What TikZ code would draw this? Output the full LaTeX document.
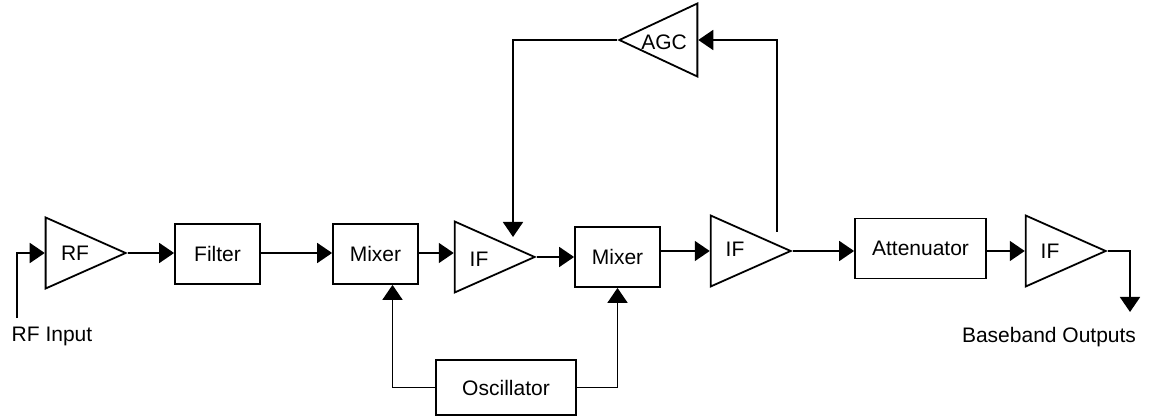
\documentclass[tikz,border=0pt]{standalone}
\usepackage{fontspec}
\setmainfont{Liberation Sans}
\usetikzlibrary{arrows.meta,positioning,calc,shapes.geometric}

\begin{document}
\begin{tikzpicture}[x=0.5pt,y=-0.5pt,>={Triangle[length=7.5pt,width=10pt]},line width=0.9pt,
    font=\fontsize{10.5}{12.6}\selectfont,
    blk/.style={draw,minimum width=42.5pt,minimum height=30pt,inner sep=0pt},
    amp/.style={draw,isosceles triangle,isosceles triangle stretches,minimum width=35.5pt,
      minimum height=40pt,inner sep=0pt,anchor=apex}]
    \useasboundingbox (0,0) rectangle (1149,416);
    \node[amp] (rf) at (128,253) {};
    \node (rftxt) at (75,253) {RF};
    \node[blk] (filter) at (217.5,254) {Filter};
    \node[blk] (mix1) at (375.5,254) {Mixer};
    \node[amp] (if1) at (537,257) {};
    \node (if1txt) at (479,259) {IF};
    \node[blk] (mix2) at (617.5,257) {Mixer};
    \node[amp] (if2) at (793,251) {};
    \node (if2txt) at (735,249) {IF};
    \node[blk,minimum width=65.5pt] (att) at (920.5,248.5) {Attenuator};
    \node[amp] (if3) at (1108,251) {};
    \node (if3txt) at (1050,251) {IF};
    \node[amp,shape border rotate=180,minimum width=36.5pt,minimum height=39pt] (agc) at (617,40) {};
    \node (agctxt) at (664,42) {AGC};
    \node[blk,minimum width=70pt,minimum height=27.5pt] (osc) at (506,387.5) {Oscillator};
    \node (rfinlbl) at (52,336) {RF Input};
    \node (bblbl) at (1049,337) {Baseband Outputs};
    \coordinate (rfin) at (17,318);
    \coordinate (bbout) at (1130,312);
    \coordinate (tap) at (777,232);
    \coordinate (drop) at (513,237);
    % main signal chain
    \draw[->] (rfin) |- (rf.west);
    \draw[->] (rf.east) -- (filter.west |- rf.east);
    \draw[->] (filter.east |- rf.east) -- (mix1.west |- rf.east);
    \draw[->] (mix1.east |- rf.east) -- (if1.west |- rf.east);
    \draw[->] (if1.east) -- (mix2.west |- if1.east);
    \draw[->] (mix2.east |- if2.west) -- (if2.west);
    \draw[->] (if2.east) -- (att.west |- if2.east);
    \draw[->] (att.east |- if3.west) -- (if3.west);
    \draw[->] (if3.east) -| (bbout);
    % oscillator and AGC loop
    \draw[->] (osc.west) -| ($(mix1.south)+(17,0)$);
    \draw[->] (osc.east) -| (mix2.south);
    \draw[->] (tap) |- (agc.east);
    \draw[->] (agc.west) -| (drop);
  \end{tikzpicture}
\end{document}
